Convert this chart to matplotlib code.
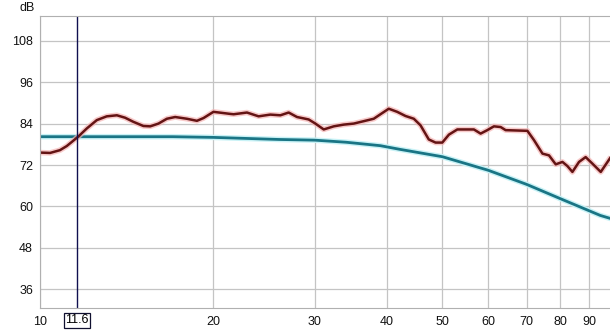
import matplotlib
matplotlib.use("Agg")
import matplotlib.pyplot as plt
from matplotlib.ticker import FixedLocator, NullLocator, NullFormatter

# measured response (red)
meas_f = [10.0, 10.41, 10.83, 11.13, 11.63, 12.06, 12.55, 13.06, 13.6, 14.05,
          14.53, 15.12, 15.54, 16.06, 16.61, 17.17, 17.99, 18.73, 19.23, 20.01,
          20.7, 21.4, 21.69, 22.88, 23.97, 25.12, 26.15, 27.03, 27.95, 29.28,
          30.08, 31.1, 32.37, 33.69, 35.07, 36.5, 37.99, 39.02, 40.34, 41.72,
          43.13, 44.59, 45.8, 47.34, 48.64, 49.97, 51.31, 53.06, 56.7, 58.24,
          59.82, 61.43, 63.1, 64.37, 70.23, 72.11, 74.59, 76.56, 78.65, 80.8,
          82.41, 84.08, 86.33, 88.65, 91.08, 94.17, 98.02]
meas_db = [75.6, 75.5, 76.3, 77.5, 80.1, 82.6, 85.0, 86.1, 86.4, 85.7,
           84.5, 83.3, 83.2, 84.0, 85.4, 85.9, 85.4, 84.8, 85.6, 87.4,
           87.1, 86.8, 86.7, 87.2, 86.1, 86.6, 86.4, 87.2, 85.9, 85.2,
           84.0, 82.3, 83.2, 83.7, 84.0, 84.7, 85.4, 86.7, 88.3, 87.4,
           86.2, 85.4, 83.5, 79.4, 78.5, 78.5, 80.8, 82.3, 82.3, 81.1,
           82.1, 83.2, 83.0, 82.1, 81.9, 79.2, 75.3, 74.8, 72.2, 72.9,
           71.7, 70.0, 72.9, 74.3, 72.4, 70.0, 74.3]

# target curve (teal)
target_f = [10.0, 15.0, 17.0, 20.0, 26.0, 30.0, 34.0, 39.0, 42.3, 50.0, 60.0,
            70.0, 80.0, 94.0, 98.0]
target_db = [80.2, 80.2, 80.2, 80.0, 79.4, 79.2, 78.6, 77.6, 76.5, 74.4, 70.5,
             66.4, 62.3, 57.4, 56.5]

cursor_f = 11.6
xticks = [10, 20, 30, 40, 50, 60, 70, 80, 90]
yticks = [36, 48, 60, 72, 84, 96, 108]

plt.rcParams['font.family'] = ['Liberation Sans', 'DejaVu Sans']

fig = plt.figure(figsize=(6.1, 3.31), dpi=100)
fig.patch.set_facecolor('white')
ax = fig.add_axes([40 / 610, 23 / 331, 572 / 610, 292 / 331])

ax.plot(target_f, target_db, color='#c8f2f6', lw=4.0, solid_capstyle='butt')
ax.plot(target_f, target_db, color='#1a7585', lw=2.0)
ax.plot(meas_f, meas_db, color='#f6b4b4', lw=4.0, alpha=0.7, solid_capstyle='butt')
ax.plot(meas_f, meas_db, color='#641414', lw=1.8)

ax.axvline(cursor_f, color='#101050', lw=1.0)

ax.set_xscale('log')
ax.set_xlim(10, 98.5)
ax.set_ylim(30.6, 115.15)
ax.xaxis.set_major_locator(FixedLocator(xticks))
ax.xaxis.set_minor_locator(NullLocator())
ax.xaxis.set_minor_formatter(NullFormatter())
ax.set_xticklabels([str(t) for t in xticks])
ax.set_yticks(yticks)
ax.tick_params(length=0, labelsize=9, colors='#111111')
ax.tick_params(axis='x', pad=6)
ax.tick_params(axis='y', pad=5)
ax.grid(True, color='#c4c4c4', lw=0.9)
ax.set_axisbelow(True)
for side in ['left', 'bottom', 'top']:
    ax.spines[side].set_color('#b0b0b0')
ax.spines['right'].set_visible(False)

ax.text(cursor_f, -12 / 292, '11.6', transform=ax.get_xaxis_transform(), ha='center',
        va='center', fontsize=9,
        bbox=dict(boxstyle='square,pad=0.12', fc='white', ec='#101030', lw=0.9))
fig.text(35 / 610, 1 - 8 / 331, 'dB', ha='right', va='center', fontsize=9, color='#111111')

fig.savefig('out.png', dpi=100)
